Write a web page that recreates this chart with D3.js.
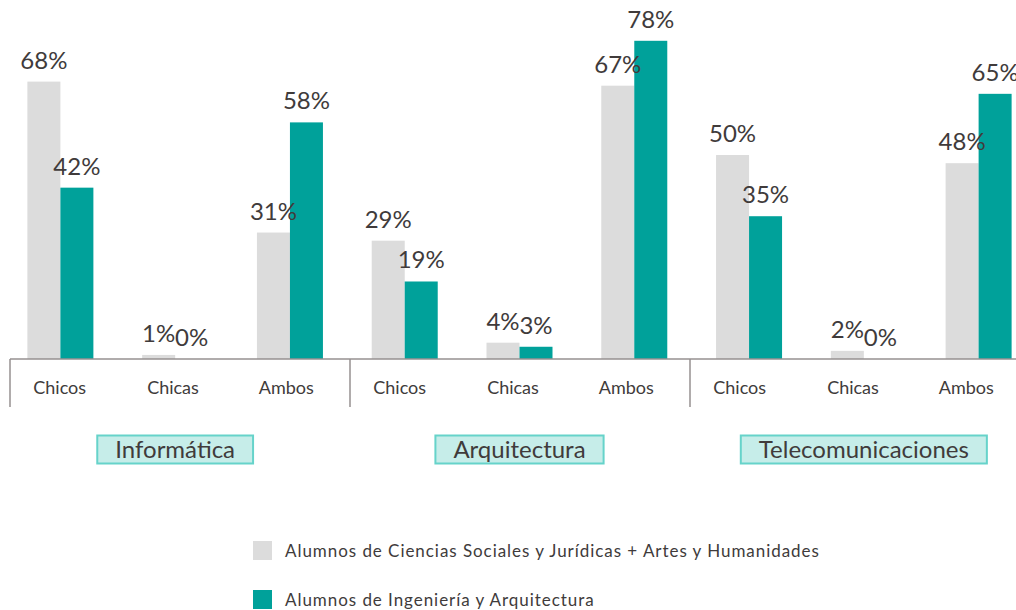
<!DOCTYPE html>
<html lang="es">
<head>
  <meta charset="UTF-8">
  <title>Alumnos por titulación</title>
  <script src="https://d3js.org/d3.v7.min.js"></script>
  <style>
    body {
      margin: 0;
      background: #ffffff;
      font-family: Lato, "Open Sans", sans-serif;
    }
    svg text {
      fill: #403b3b;
    }
  </style>
</head>
<body>
  <svg id="chart"></svg>

  <script>
    // categories
    const groups = ["Informática", "Arquitectura", "Telecomunicaciones"];
    const subgroups = ["Chicos", "Chicas", "Ambos"];

    // series (percent)
    const seriesNames = [
      "Alumnos de Ciencias Sociales y Jurídicas + Artes y Humanidades",
      "Alumnos de Ingeniería y Arquitectura"
    ];
    const socialesValues = [68, 1, 31, 29, 4, 67, 50, 2, 48];
    const ingenieriaValues = [42, 0, 58, 19, 3, 78, 35, 0, 65];

    const colours = ["#dcdcdc", "#00a19a"];

    const width = 1016;
    const height = 610;
    const baseline = 359;

    const svg = d3.select("#chart")
      .attr("width", width)
      .attr("height", height);

    // one slot per group/subgroup pair
    const cats = groups.flatMap(g => subgroups.map(s => g + "|" + s));

    // bar positions
    const x = d3.scaleBand()
      .domain(cats)
      .range([3, 1036])
      .paddingInner(0.425)
      .paddingOuter(0.2125);

    // category axis (labels + separators) runs on its own slots
    const xAxis = d3.scaleBand()
      .domain(cats)
      .range([10, 1030]);

    const xSeries = d3.scaleBand()
      .domain([0, 1])
      .range([0, x.bandwidth()]);

    const y = d3.scaleLinear()
      .domain([0, 88])
      .range([baseline, 0]);

    const data = cats.flatMap((c, i) => [
      { cat: c, s: 0, value: socialesValues[i] },
      { cat: c, s: 1, value: ingenieriaValues[i] }
    ]);

    // bars
    svg.append("g")
      .selectAll("rect")
      .data(data)
      .join("rect")
      .attr("x", d => x(d.cat) + xSeries(d.s))
      .attr("y", d => y(d.value))
      .attr("width", xSeries.bandwidth())
      .attr("height", d => baseline - y(d.value))
      .attr("fill", d => colours[d.s]);

    // value labels
    svg.append("g")
      .selectAll("text")
      .data(data)
      .join("text")
      .attr("x", d => x(d.cat) + xSeries(d.s) + xSeries.bandwidth() / 2)
      .attr("y", d => y(d.value) - 13)
      .attr("text-anchor", "middle")
      .attr("font-size", "24px")
      .text(d => d.value + "%");

    // axis line and group separators
    const axisColour = "#969090";
    svg.append("line")
      .attr("x1", 10).attr("x2", width)
      .attr("y1", baseline).attr("y2", baseline)
      .attr("stroke", axisColour)
      .attr("stroke-width", 1.5);

    svg.append("g")
      .selectAll("line")
      .data(groups)
      .join("line")
      .attr("x1", g => xAxis(g + "|" + subgroups[0]))
      .attr("x2", g => xAxis(g + "|" + subgroups[0]))
      .attr("y1", baseline)
      .attr("y2", 407)
      .attr("stroke", axisColour)
      .attr("stroke-width", 1.5);

    // subgroup labels
    svg.append("g")
      .selectAll("text")
      .data(cats)
      .join("text")
      .attr("x", d => xAxis(d) + xAxis.bandwidth() / 2 - 7)
      .attr("y", 394)
      .attr("text-anchor", "middle")
      .attr("font-size", "18px")
      .text(d => d.split("|")[1]);

    // group label boxes
    groups.forEach(g => {
      const cx = x(g + "|" + subgroups[1]) + x.bandwidth() / 2;
      const gEl = svg.append("g");
      const t = gEl.append("text")
        .attr("x", cx)
        .attr("y", 458)
        .attr("text-anchor", "middle")
        .attr("font-size", "24px")
        .text(g);
      const w = t.node().getComputedTextLength() + 36;
      gEl.insert("rect", "text")
        .attr("x", cx - w / 2)
        .attr("y", 435.5)
        .attr("width", w)
        .attr("height", 28)
        .attr("fill", "#c6ede9")
        .attr("stroke", "#66d3ca")
        .attr("stroke-width", 2);
    });

    // legend
    const legend = svg.append("g")
      .selectAll("g")
      .data(seriesNames)
      .join("g")
      .attr("transform", (d, i) => `translate(253, ${541 + i * 49})`);

    legend.append("rect")
      .attr("width", 19)
      .attr("height", 19)
      .attr("fill", (d, i) => colours[i]);

    legend.append("text")
      .attr("x", 32)
      .attr("y", 16)
      .attr("font-size", "17px")
      .attr("letter-spacing", "0.95px")
      .text(d => d);
  </script>
</body>
</html>
